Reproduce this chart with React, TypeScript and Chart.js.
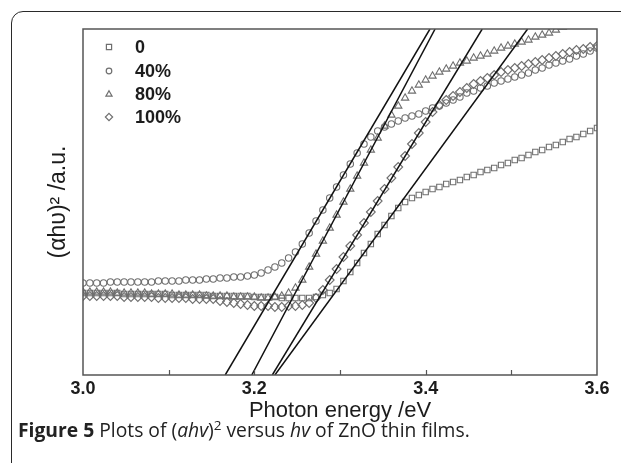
import React, { useEffect, useRef } from 'react';
import { Chart, registerables } from 'chart.js';

Chart.register(...registerables);

// Photon energy (eV) of each measured point
const energies = [
  3.000, 3.008, 3.016, 3.024, 3.032, 3.040, 3.048, 3.056, 3.064, 3.072,
  3.080, 3.088, 3.096, 3.104, 3.112, 3.120, 3.128, 3.136, 3.144, 3.152,
  3.160, 3.168, 3.176, 3.184, 3.192, 3.200, 3.208, 3.216, 3.224, 3.232,
  3.240, 3.248, 3.256, 3.264, 3.272, 3.280, 3.288, 3.296, 3.304, 3.312,
  3.320, 3.328, 3.336, 3.344, 3.352, 3.360, 3.368, 3.376, 3.384, 3.392,
  3.400, 3.408, 3.416, 3.424, 3.432, 3.440, 3.448, 3.456, 3.464, 3.472,
  3.480, 3.488, 3.496, 3.504, 3.512, 3.520, 3.528, 3.536, 3.544, 3.552,
  3.560, 3.568, 3.576, 3.584, 3.592, 3.600,
];

// (alpha h nu)^2 in arbitrary units
const s0 = [
  82, 82, 82, 82, 82, 82, 81, 81, 81, 81,
  81, 81, 81, 80, 80, 80, 80, 80, 80, 79,
  79, 79, 79, 79, 79, 78, 78, 78, 78, 77,
  77, 77, 77, 77, 78, 80, 82, 86, 94, 103,
  112, 122, 131, 141, 150, 159, 167, 173, 177, 180,
  183, 186, 188, 191, 193, 195, 198, 200, 203, 205,
  207, 210, 212, 215, 217, 220, 223, 225, 228, 230,
  233, 236, 238, 241, 244, 247,
];
const s40 = [
  92, 92, 92, 92, 93, 93, 93, 93, 93, 93,
  93, 94, 94, 94, 94, 95, 95, 95, 96, 96,
  97, 97, 98, 98, 99, 100, 102, 105, 108, 112,
  117, 123, 131, 142, 154, 165, 177, 188, 200, 211,
  222, 231, 238, 244, 248, 251, 254, 257, 259, 261,
  264, 267, 269, 272, 275, 278, 282, 284, 287, 289,
  292, 294, 296, 298, 300, 302, 305, 307, 310, 312,
  314, 316, 319, 321, 324, 327,
];
const s80 = [
  83, 83, 83, 83, 83, 82, 82, 82, 82, 82,
  81, 81, 81, 81, 80, 80, 80, 80, 79, 79,
  79, 79, 78, 78, 78, 78, 77, 77, 78, 79,
  82, 87, 95, 108, 121, 134, 147, 160, 173, 186,
  199, 212, 225, 237, 249, 260, 269, 277, 284, 290,
  295, 299, 303, 306, 309, 312, 314, 317, 319, 321,
  324, 327, 329, 331, 333, 335, 338, 340, 342, 345,
  348, 350, 352, 354, 356, 358,
];
const s100 = [
  79, 79, 79, 79, 79, 79, 78, 78, 78, 78,
  78, 77, 77, 77, 77, 77, 76, 76, 76, 76,
  74, 73, 72, 71, 70, 69, 69, 69, 68, 68,
  69, 69, 70, 72, 77, 85, 95, 106, 118, 129,
  140, 152, 163, 174, 186, 197, 208, 219, 231, 242,
  253, 263, 270, 275, 279, 283, 287, 291, 294, 297,
  300, 303, 305, 307, 309, 311, 313, 315, 317, 319,
  321, 323, 325, 326, 328, 329,
];

// Linear fits (two end points each: [energy, value])
const fit0 = [[3.224, 0], [3.519, 346]];
const fit40 = [[3.166, 0], [3.405, 346]];
const fit80 = [[3.197, 0], [3.411, 346]];
const fit100 = [[3.221, 0], [3.466, 346]];

const seriesLabels = ['0', '40%', '80%', '100%'];
const seriesStyles = ['rect', 'circle', 'triangle', 'rectRot'];
const xTickLabels = ['3.0', '3.2', '3.4', '3.6'];
const minorTicks = [3.1, 3.2, 3.3, 3.4, 3.5];

const FONT = '"Liberation Sans", Arial, Helvetica, sans-serif';
const MARKER = '#6f6f6f';
const TEXT = '#1c1c1c';

function drawShape(ctx: CanvasRenderingContext2D, style: string, x: number, y: number, r: number) {
  ctx.beginPath();
  if (style === 'rect') {
    ctx.rect(x - r, y - r, 2 * r, 2 * r);
  } else if (style === 'circle') {
    ctx.arc(x, y, r, 0, Math.PI * 2);
  } else if (style === 'triangle') {
    ctx.moveTo(x, y - r * 1.15);
    ctx.lineTo(x + r * 1.1, y + r * 0.75);
    ctx.lineTo(x - r * 1.1, y + r * 0.75);
    ctx.closePath();
  } else {
    ctx.moveTo(x, y - r * 1.3);
    ctx.lineTo(x + r * 1.3, y);
    ctx.lineTo(x, y + r * 1.3);
    ctx.lineTo(x - r * 1.3, y);
    ctx.closePath();
  }
  ctx.stroke();
}

const framePlugin = {
  id: 'frameTicksLegend',
  afterDatasetsDraw(chart: any) {
    const { ctx, chartArea } = chart;
    const xs = chart.scales.x;
    ctx.save();
    ctx.strokeStyle = '#555';
    ctx.lineWidth = 1.5;
    ctx.strokeRect(chartArea.left, chartArea.top, chartArea.right - chartArea.left, chartArea.bottom - chartArea.top);
    ctx.lineWidth = 1.2;
    minorTicks.forEach((v) => {
      const px = Math.round(xs.getPixelForValue(v)) + 0.5;
      ctx.beginPath();
      ctx.moveTo(px, chartArea.bottom);
      ctx.lineTo(px, chartArea.bottom - 5);
      ctx.stroke();
    });
    // legend
    const lx = chartArea.left + 26;
    const tx = chartArea.left + 52;
    const rows = [18, 42, 65, 88];
    ctx.font = `bold 18px ${FONT}`;
    ctx.textBaseline = 'middle';
    ctx.textAlign = 'left';
    seriesLabels.forEach((lab, i) => {
      const y = chartArea.top + rows[i];
      ctx.strokeStyle = MARKER;
      ctx.lineWidth = 1.2;
      drawShape(ctx, seriesStyles[i], lx, y, i === 0 ? 2.6 : 2.8);
      ctx.fillStyle = TEXT;
      ctx.fillText(lab, tx, y + 1);
    });
    ctx.restore();
  },
};

export default function App() {
  const ref = useRef<HTMLCanvasElement>(null);
  useEffect(() => {
    const canvas = ref.current!;
    const pts = (arr: number[]) => energies.map((x, i) => ({ x, y: arr[i] }));
    const fitSet = (f: number[][]) => ({
      type: 'line' as const,
      data: f.map(([x, y]) => ({ x, y })),
      borderColor: '#111',
      borderWidth: 1.5,
      pointRadius: 0,
      showLine: true,
      fill: false,
      order: 0,
    });
    const markerSet = (label: string, arr: number[], style: string, radius: number) => ({
      type: 'scatter' as const,
      label,
      data: pts(arr),
      pointStyle: style,
      pointRadius: radius,
      pointBorderColor: MARKER,
      pointBackgroundColor: 'rgba(0,0,0,0)',
      pointBorderWidth: 1.1,
      showLine: false,
      order: 1,
    });
    const chart = new Chart(canvas, {
      type: 'scatter',
      data: {
        datasets: [
          fitSet(fit0),
          fitSet(fit40),
          fitSet(fit80),
          fitSet(fit100),
          markerSet(seriesLabels[0], s0, 'rect', 3.8),
          markerSet(seriesLabels[1], s40, 'circle', 3.2),
          markerSet(seriesLabels[2], s80, 'triangle', 4.2),
          markerSet(seriesLabels[3], s100, 'rectRot', 4.4),
        ] as any,
      },
      options: {
        animation: false,
        responsive: false,
        devicePixelRatio: 1,
        layout: { padding: { left: 0, top: 29, right: 24, bottom: 0 } },
        plugins: { legend: { display: false }, tooltip: { enabled: false } },
        scales: {
          x: {
            type: 'linear',
            min: 3.0,
            max: 3.6,
            grid: { display: false, drawTicks: false, tickLength: 0 },
            border: { display: false },
            ticks: {
              stepSize: 0.1,
              autoSkip: false,
              maxRotation: 0,
              padding: 3,
              color: TEXT,
              font: { family: FONT, size: 18, weight: 'bold' },
              callback: (v: any) => {
                const k = Math.round(Number(v) * 10);
                return k % 2 === 0 ? xTickLabels[(k - 30) / 2] : '';
              },
            },
            title: {
              display: true,
              text: 'Photon energy /eV',
              color: TEXT,
              font: { family: FONT, size: 22 },
              padding: { top: 0, bottom: 39 },
            },
            afterFit: (s: any) => { s.height = 88; },
          },
          y: {
            type: 'linear',
            min: 0,
            max: 346,
            grid: { display: false, drawTicks: false, tickLength: 0 },
            border: { display: false },
            ticks: { display: false },
            title: {
              display: true,
              text: '(αhυ)² /a.u.',
              color: TEXT,
              font: { family: FONT, size: 23 },
              padding: { top: 45, bottom: 0 },
            },
            afterFit: (s: any) => { s.width = 83; },
          },
        },
      } as any,
      plugins: [framePlugin],
    });
    return () => chart.destroy();
  }, []);

  return (
    <div style={{ position: 'fixed', left: 0, top: 0, width: 621, height: 463, overflow: 'hidden', background: '#fff' }}>
      <div
        style={{
          position: 'absolute', left: 11, top: 11, width: 720, height: 600,
          border: '1.7px solid #2a2a2a', borderTopLeftRadius: 12, boxSizing: 'border-box',
        }}
      />
      <canvas ref={ref} width={621} height={463} style={{ position: 'absolute', left: 0, top: 0 }} />
      <div
        style={{
          position: 'absolute', left: 18, top: 418, font: '19.3px "Open Sans", "Noto Sans", sans-serif',
          color: '#222', whiteSpace: 'nowrap', lineHeight: '24px',
        }}
      >
        <b>Figure 5</b> Plots of (<i>ahv</i>)<sup style={{ fontSize: '0.7em', verticalAlign: 'super', lineHeight: 0 }}>2</sup> versus <i>hv</i> of ZnO thin films.
      </div>
    </div>
  );
}
